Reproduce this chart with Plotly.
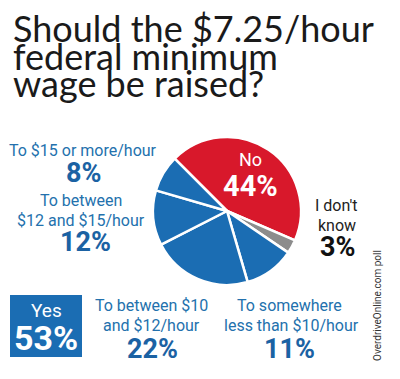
import plotly.graph_objects as go

W, H = 400, 379

# Data
categories = ["No", "I don't know", "To somewhere less than $10/hour",
              "To between $10 and $12/hour", "To between $12 and $15/hour",
              "To $15 or more/hour"]
values = [44, 3, 11, 22, 12, 8]
colors = ["#d8182b", "#8c8c8c", "#1b6db3", "#1b6db3", "#1b6db3", "#1b6db3"]
title_lines = ["Should the $7.25/hour", "federal minimum", "wage be raised?"]
yes_total = "53%"

def px(x):
    return x / W

def py(y):
    return 1 - y / H

COND = "Roboto, sans-serif"
TITLE = "Lato, Open Sans, sans-serif"
BLUE_T = "#2371ad"
BLUE_P = "#1b62a3"

fig = go.Figure()
cx, cy, r = 227, 211, 74
fig.add_trace(go.Pie(
    labels=categories, values=values, sort=False, direction="clockwise",
    rotation=-45, textinfo="none", hoverinfo="skip",
    marker=dict(colors=colors, line=dict(color="white", width=2.5)),
    domain=dict(x=[px(cx - r), px(cx + r)], y=[py(cy + r), py(cy - r)]),
    showlegend=False,
))

ann = []

def add(text, x, y, size, color, family=COND, bold=False, angle=0, xanchor="center"):
    t = f"<b>{text}</b>" if bold else text
    ann.append(dict(text=t, x=px(x), y=py(y), xref="paper", yref="paper",
                    xanchor=xanchor, yanchor="middle", showarrow=False,
                    textangle=angle,
                    font=dict(family=family, size=size, color=color)))

# title
for line, yy in zip(title_lines, [28, 56, 83]):
    add(line, 11, yy, 36, "#1a1a1a", family=TITLE, xanchor="left")

LS = 16
PS = 27
# left labels
add(categories[5], 83, 150, LS, BLUE_T)
add(f"{values[5]}%", 83, 173, PS, BLUE_P, bold=True)
add("To between", 81, 200, LS, BLUE_T)
add("$12 and $15/hour", 81, 220, LS, BLUE_T)
add(f"{values[4]}%", 85, 242, PS, BLUE_P, bold=True)

# bottom labels
add("To between $10", 151, 305, LS, BLUE_T)
add("and $12/hour", 151, 325, LS, BLUE_T)
add(f"{values[3]}%", 152, 349, PS, BLUE_P, bold=True)
add("To somewhere", 289, 305, LS, BLUE_T)
add("less than $10/hour", 291, 325, LS, BLUE_T)
add(f"{values[2]}%", 289, 349, PS, BLUE_P, bold=True)

# right labels
add("I don't", 336, 205, LS, "#222222")
add("know", 337, 225, LS, "#222222")
add(f"{values[1]}%", 337, 247, PS, "#111111", bold=True)

# inside red
add(categories[0], 251, 160, 18, "white")
add(f"{values[0]}%", 250, 186, 29, "white", bold=True)

# Yes box
add("Yes", 46, 310, 19, "white")
add(yes_total, 46, 338, 34, "white", bold=True)

# source
add("OverdriveOnline.com poll", 377, 306, 10, "#333333", angle=-90)

fig.update_layout(
    width=W, height=H, margin=dict(l=0, r=0, t=0, b=0),
    paper_bgcolor="white", plot_bgcolor="white",
    annotations=ann,
    shapes=[dict(type="rect", xref="paper", yref="paper",
                 x0=px(10), x1=px(82), y0=py(357), y1=py(295),
                 fillcolor="#1b6db3", line=dict(width=0), layer="below")],
)

fig.write_html("out.html")
